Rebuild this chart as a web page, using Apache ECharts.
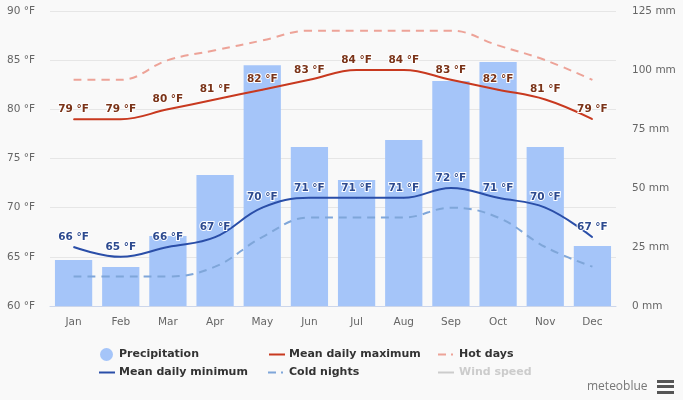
<!DOCTYPE html>
<html><head><meta charset="utf-8">
<style>html,body{margin:0;padding:0;background:#f9f9f9}#c{width:683px;height:400px}</style>
<script src="https://cdn.jsdelivr.net/npm/echarts@6/dist/echarts.min.js"></script>
</head><body><div id="c"></div>
<script>
const months=['Jan','Feb','Mar','Apr','May','Jun','Jul','Aug','Sep','Oct','Nov','Dec'];
const precipitation=[19.5,16.5,29.7,55.5,102,67.4,53.4,70.3,95.3,103.4,67.4,25.4];
const meanMax=[79,79,80,81,82,83,84,84,83,82,81,79];
const meanMin=[66,65,66,67,70,71,71,71,72,71,70,67];
const hotDays=[83,83,85,86,87,88,88,88,88,86.5,85,83];
const coldNights=[63,63,63,64,67,69,69,69,70,69,66,64];
const FONT='DejaVu Sans';
const chart=echarts.init(document.getElementById('c'));
const lbl=(color)=>({show:true,position:'top',distance:4,formatter:p=>p.value+' °F',color:color,fontFamily:FONT,fontSize:10.5,fontWeight:'bold',textBorderColor:'#fff',textBorderWidth:2});
const leg=(name,left,top,icon,w,h,pad)=>({data:[{name,icon}],left,top,itemWidth:w,itemHeight:h,padding:0,orient:'horizontal',selectedMode:false,inactiveColor:'#ccc',
  itemGap:0,textStyle:{fontFamily:FONT,fontSize:11,fontWeight:'bold',color:name==='Wind speed'?'#ccc':'#333',padding:[0,0,0,pad]}});
const lineIcon='path://M0 0H16V2H0Z';
const dashIcon='path://M0 0H8V2H0ZM13 0H15V2H13Z';
const mark={symbol:'circle',symbolSize:1,showSymbol:true,showAllSymbol:true};
chart.setOption({
  animation:false,backgroundColor:'#f9f9f9',
  grid:{left:50,right:67,top:11,bottom:94},
  legend:[
    leg('Precipitation',100,348,'circle',13,13,1),
    leg('Mean daily maximum',269,349,lineIcon,16,2,-1),
    leg('Hot days',438,349,dashIcon,15,2,1),
    leg('Mean daily minimum',99,367,lineIcon,16,2,-1),
    leg('Cold nights',268,367,dashIcon,15,2,1),
    leg('Wind speed',438,367,lineIcon,16,2,0)
  ],
  xAxis:{type:'category',data:months,axisTick:{show:false},axisLine:{lineStyle:{color:'#ccd6eb'}},
    axisLabel:{color:'#666',fontFamily:FONT,fontSize:10.5,margin:11}},
  yAxis:[
    {type:'value',min:60,max:90,interval:5,axisLabel:{formatter:v=>v+' °F',color:'#666',fontFamily:FONT,fontSize:10.5,margin:15},
     splitLine:{lineStyle:{color:'#e6e6e6'}},axisLine:{show:false},axisTick:{show:false}},
    {type:'value',min:0,max:125,interval:25,position:'right',axisLabel:{formatter:v=>v+' mm',color:'#666',fontFamily:FONT,fontSize:10.5,margin:16},
     splitLine:{show:false},axisLine:{show:false},axisTick:{show:false}}
  ],
  series:[
    {name:'Precipitation',type:'bar',yAxisIndex:1,data:precipitation,barCategoryGap:'21%',itemStyle:{color:'#a5c5f9'},z:1},
    {name:'Mean daily maximum',type:'line',data:meanMax,smooth:0.4,...mark,lineStyle:{color:'#c8391f',width:2},itemStyle:{color:'#c8391f'},label:lbl('#7a3318'),z:4},
    {name:'Mean daily minimum',type:'line',data:meanMin,smooth:0.4,...mark,lineStyle:{color:'#2a4ea8',width:2},itemStyle:{color:'#2a4ea8'},label:lbl('#2d4a8f'),z:4},
    {name:'Hot days',type:'line',data:hotDays,smooth:0.4,symbol:'none',lineStyle:{color:'#eda398',width:2,type:[8,6]},itemStyle:{color:'#eda398'},z:3},
    {name:'Cold nights',type:'line',data:coldNights,smooth:0.4,symbol:'none',lineStyle:{color:'#7fa6d9',width:2,type:[8,6]},itemStyle:{color:'#7fa6d9'},z:3},
    {name:'Wind speed',type:'line',data:[],symbol:'none',lineStyle:{color:'#ccc',width:2},itemStyle:{color:'#ccc'}}
  ],
  graphic:[
    {type:'text',left:587,top:381,style:{text:'meteoblue',fontFamily:'Open Sans',fontSize:12,fill:'#777'}},
    {type:'rect',left:657,top:380,shape:{width:17,height:3},style:{fill:'#555'}},
    {type:'rect',left:657,top:385,shape:{width:17,height:3},style:{fill:'#555'}},
    {type:'rect',left:657,top:391,shape:{width:17,height:3},style:{fill:'#555'}}
  ]
});
</script></body></html>
